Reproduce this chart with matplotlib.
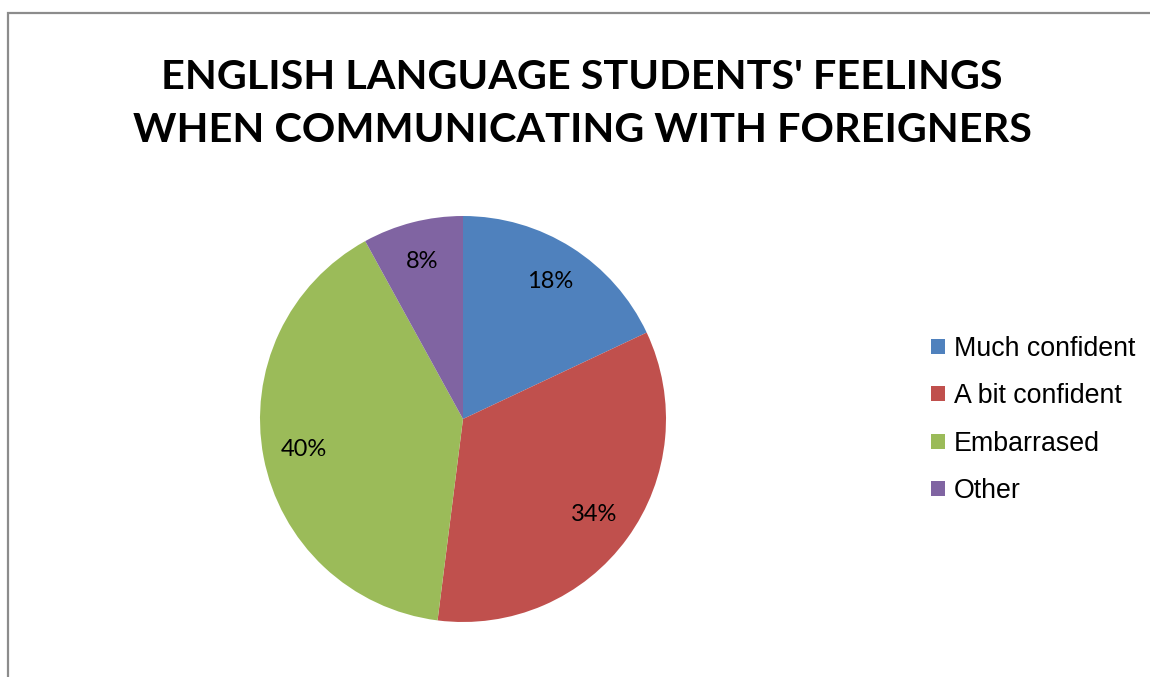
import matplotlib
matplotlib.use('Agg')
import matplotlib.pyplot as plt
from matplotlib.patches import Rectangle

TITLE = "ENGLISH LANGUAGE STUDENTS' FEELINGS\nWHEN COMMUNICATING WITH FOREIGNERS"
CATEGORIES = ['Much confident', 'A bit confident', 'Embarrased', 'Other']
SHARES = [18, 34, 40, 8]
COLORS = ['#4F81BD', '#C0504D', '#9BBB59', '#8064A2']

W, H = 1150, 677
fig = plt.figure(figsize=(W / 100, H / 100), dpi=100)

# chart-area frame (only left and top edges fall inside the image)
fig.add_artist(Rectangle((8 / W, -0.1), 1.2, 1.1 - 13 / H, transform=fig.transFigure,
                         fill=False, edgecolor='#8c8c8c', linewidth=1.6))

fig.text(582 / W, 1 - 104 / H, TITLE, ha='center', va='center',
         fontsize=29.8, fontweight='bold', family='Lato', linespacing=1.52)

# pie centred at (463, 419) px, radius 203 px
cx, cy, r = 463, 419, 203
ax = fig.add_axes([(cx - r) / W, (H - cy - r) / H, 2 * r / W, 2 * r / H])
wedges, _, autotexts = ax.pie(SHARES, colors=COLORS, startangle=90, counterclock=False,
                              radius=1, autopct='%d%%', pctdistance=0.8,
                              wedgeprops=dict(linewidth=0),
                              textprops=dict(fontsize=17, family='Lato'))
ax.set_xlim(-1, 1)
ax.set_ylim(-1, 1)
ax.set_aspect('equal')
ax.axis('off')

fig.legend(wedges, CATEGORIES, loc='center left', bbox_to_anchor=(907 / W, 1 - 420 / H),
           frameon=False, prop=dict(family='Liberation Sans', size=19.3),
           handlelength=0.5, handleheight=0.5, handletextpad=0.35, labelspacing=0.8)

fig.savefig('out.png', dpi=100)
